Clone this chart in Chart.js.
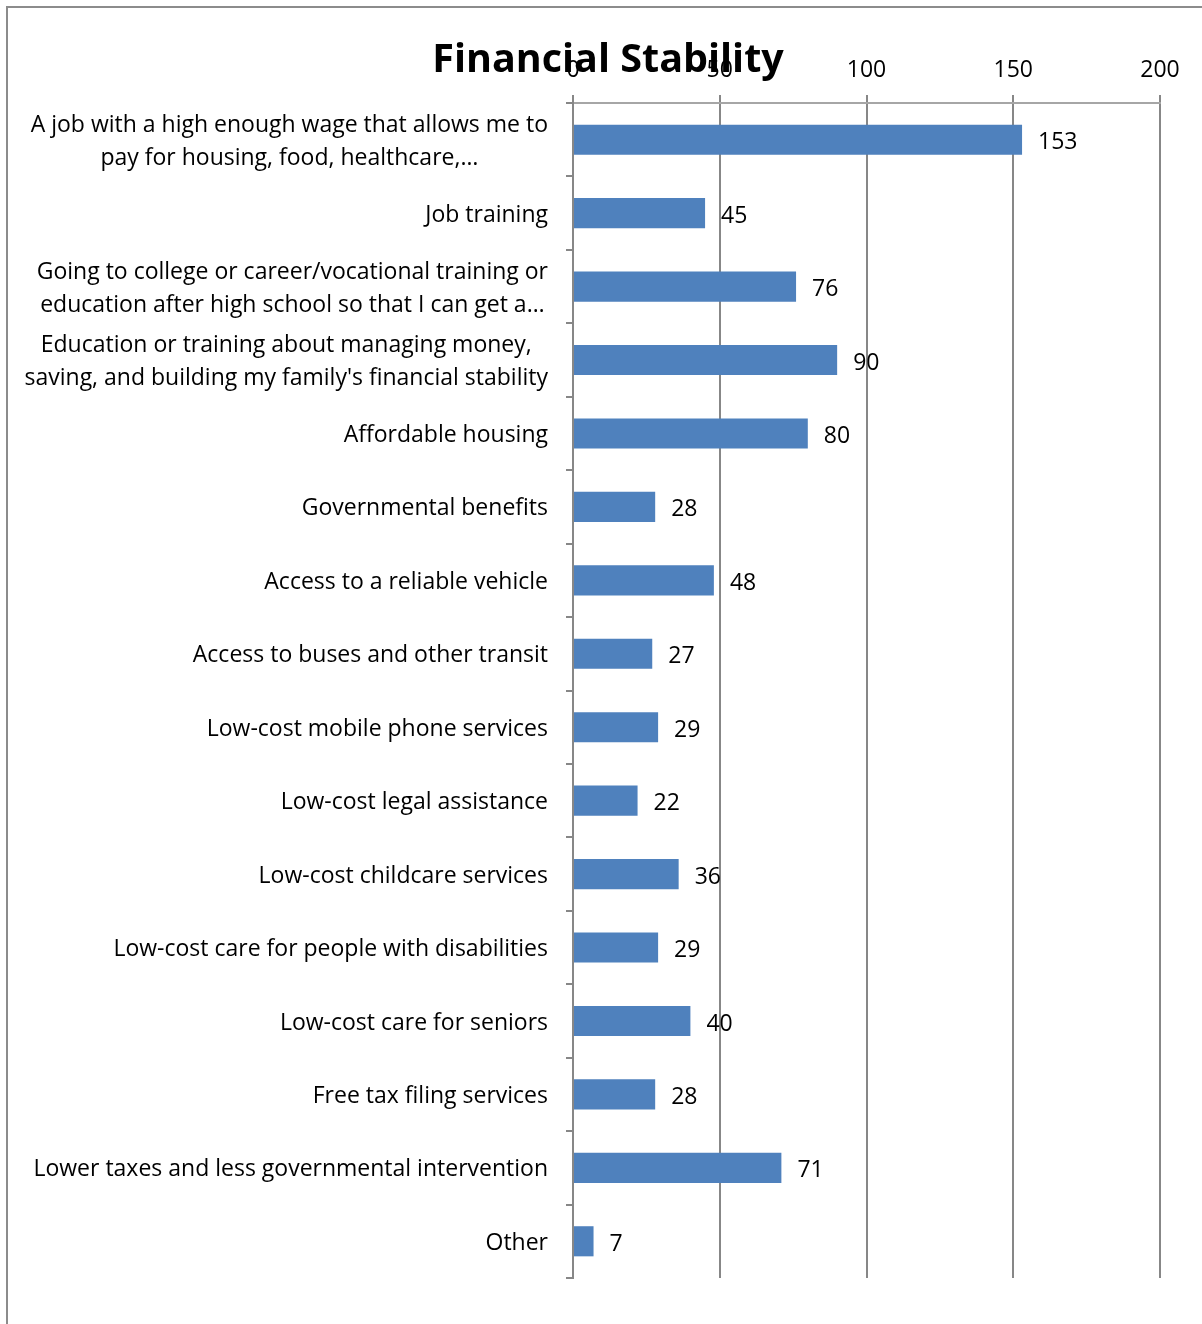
<!DOCTYPE html>
<html>
<head>
<meta charset="utf-8">
<script src="https://cdn.jsdelivr.net/npm/chart.js@4.4.1/dist/chart.umd.min.js"></script>
<style>
  html, body { margin: 0; padding: 0; background: #fff; }
  #wrap { position: relative; width: 1202px; height: 1324px; overflow: hidden; }
  #frame {
    position: absolute; left: 6px; top: 6px; width: 1300px; height: 1400px;
    border-left: 2px solid #8c8c8c; border-top: 2px solid #8c8c8c;
  }
  canvas { position: absolute; left: 0; top: 0; }
</style>
</head>
<body>
<div id="wrap">
  <div id="frame"></div>
  <canvas id="chart" width="1202" height="1324" style="width:1202px;height:1324px"></canvas>
</div>
<script>
const chartTitle = 'Financial Stability';

const categories = [
  ['A job with a high enough wage that allows me to', 'pay for housing, food, healthcare,…'],
  ['Job training'],
  ['Going to college or career/vocational training or', 'education after high school so that I can get a…'],
  ['Education or training about managing money,', "saving, and building my family's financial stability"],
  ['Affordable housing'],
  ['Governmental benefits'],
  ['Access to a reliable vehicle'],
  ['Access to buses and other transit'],
  ['Low-cost mobile phone services'],
  ['Low-cost legal assistance'],
  ['Low-cost childcare services'],
  ['Low-cost care for people with disabilities'],
  ['Low-cost care for seniors'],
  ['Free tax filing services'],
  ['Lower taxes and less governmental intervention'],
  ['Other']
];

const counts = [153, 45, 76, 90, 80, 28, 48, 27, 29, 22, 36, 29, 40, 28, 71, 7];

const xTicks = [0, 50, 100, 150, 200];

const FONT = '"Open Sans", "DejaVu Sans", sans-serif';
const GRID = '#878787';

// category names: right-aligned block, lines centred inside it
const categoryLabels = {
  id: 'categoryLabels',
  afterDraw(chart) {
    const ctx = chart.ctx;
    const y = chart.scales.y;
    const right = 548;
    const lineH = 33;
    ctx.save();
    ctx.font = '23px ' + FONT;
    ctx.fillStyle = '#000';
    ctx.textAlign = 'center';
    ctx.textBaseline = 'middle';
    chart.data.labels.forEach((lines, i) => {
      const cy = y.getPixelForValue(i) + 2;
      const w = Math.max(...lines.map(l => ctx.measureText(l).width));
      const cx = right - w / 2;
      const y0 = cy - (lines.length - 1) * lineH / 2;
      lines.forEach((l, k) => ctx.fillText(l, cx, y0 + k * lineH));
    });
    ctx.restore();
  }
};

// value printed just past the end of each bar
const valueLabels = {
  id: 'valueLabels',
  afterDatasetsDraw(chart) {
    const ctx = chart.ctx;
    const meta = chart.getDatasetMeta(0);
    ctx.save();
    ctx.font = '23px ' + FONT;
    ctx.fillStyle = '#000';
    ctx.textAlign = 'left';
    ctx.textBaseline = 'middle';
    meta.data.forEach((bar, i) => {
      ctx.fillText(String(chart.data.datasets[0].data[i]), bar.x + 16, bar.y + 3);
    });
    ctx.restore();
  }
};

const titleText = {
  id: 'titleText',
  afterDraw(chart) {
    const ctx = chart.ctx;
    ctx.save();
    ctx.font = 'bold 39.5px ' + FONT;
    ctx.fillStyle = '#000';
    ctx.textAlign = 'center';
    ctx.textBaseline = 'alphabetic';
    ctx.fillText(chartTitle, 608, 72);
    ctx.restore();
  }
};

new Chart(document.getElementById('chart'), {
  type: 'bar',
  data: {
    labels: categories,
    datasets: [{
      data: counts,
      backgroundColor: '#4f81bd',
      borderWidth: 0,
      barPercentage: 0.41,
      categoryPercentage: 1
    }]
  },
  options: {
    indexAxis: 'y',
    responsive: false,
    animation: false,
    layout: { padding: { top: 0, left: 0, right: 42, bottom: 46 } },
    plugins: {
      legend: { display: false },
      title: { display: false },
      tooltip: { enabled: false }
    },
    scales: {
      x: {
        type: 'linear',
        position: 'top',
        min: xTicks[0],
        max: xTicks[xTicks.length - 1],
        afterBuildTicks: s => { s.ticks = xTicks.map(v => ({ value: v })); },
        afterFit: s => { s.height = 103; },
        ticks: {
          color: '#000',
          font: { family: FONT, size: 23 },
          padding: 11,
          maxRotation: 0
        },
        grid: { color: GRID, lineWidth: 2, tickLength: 8, drawTicks: true },
        border: { display: true, color: '#a6a6a6', width: 2 }
      },
      y: {
        type: 'category',
        afterFit: s => { s.width = 573; },
        ticks: { display: false },
        grid: {
          color: GRID, lineWidth: 2, tickLength: 7,
          drawOnChartArea: false, drawTicks: true, offset: true
        },
        border: { display: true, color: GRID, width: 2 }
      }
    }
  },
  plugins: [valueLabels, categoryLabels, titleText]
});
</script>
</body>
</html>
